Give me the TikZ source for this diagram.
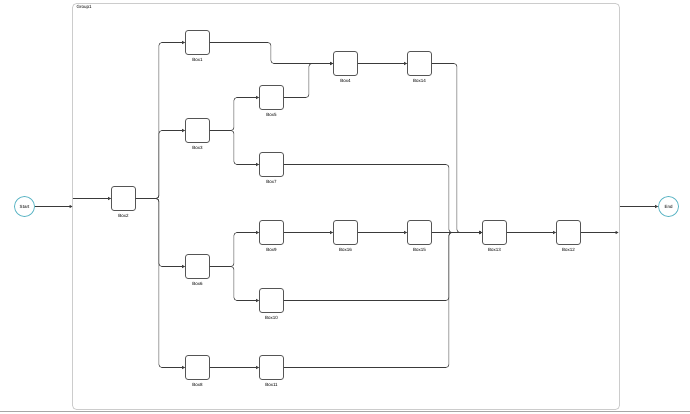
\documentclass[tikz,border=0pt]{standalone}
\usepackage{fontspec}
\setmainfont{Liberation Sans}
\usetikzlibrary{arrows.meta}
\definecolor{edgegray}{HTML}{3A3A3A}
\definecolor{boxgray}{HTML}{555555}
\definecolor{groupgray}{HTML}{CCCCCC}
\definecolor{teal}{HTML}{5AB4C4}
\begin{document}
\begin{tikzpicture}[x=1pt,y=-1pt,font=\fontsize{4.5}{5}\selectfont,
  box/.style={draw=boxgray,line width=0.8pt,rounded corners=2.5pt,minimum size=24pt,inner sep=0pt},
  lbl/.style={inner sep=0pt,label distance=3pt},
  term/.style={circle,draw=teal,line width=0.8pt,minimum size=20pt,inner sep=0pt},
  flow/.style={draw=edgegray,line width=0.6pt,rounded corners=3pt,-{Triangle[length=3pt,width=3pt]}}]
  \useasboundingbox (0,0) rectangle (690,414);
  \begin{scope}[shift={(0.5,0.5)}]

  % Grupo
  \draw[groupgray,line width=0.8pt,rounded corners=4pt] (72,3) rectangle (619,409);
  \node[anchor=north west,inner sep=0pt] (g1) at (76,5) {Group1};
  \draw[gray!70,line width=1.2pt] (-1,411) -- (691,411);

  % Inicio y fin
  \node[term] (start) at (24,206) {Start};
  \node[term] (end) at (668,206) {End};
  \coordinate (gin) at (72,206);
  \coordinate (gin2) at (72,198);
  \coordinate (gout) at (618,232);
  \coordinate (gout2) at (619,206);

  % Cajas
  \foreach \n/\x/\y in {1/197/42, 2/123/198, 3/197/130, 4/345/63, 5/271/97, 6/197/266,
                        7/271/164, 8/197/367, 9/271/232, 10/271/300, 11/271/367,
                        12/568/232, 13/494/232, 14/419/63, 15/419/232, 16/345/232}
    \node[box,label={[lbl]below:Box\n}] (b\n) at (\x,\y) {};

  % Aristas rectas
  \draw[flow] (start) -- (gin);
  \draw[flow] (gin2) -- (b2);
  \foreach \from/\to in {b4/b14, b9/b16, b16/b15, b15/b13, b8/b11, b13/b12}
    \draw[flow] (\from) -- (\to);
  \draw[flow] (b12) -- (gout);
  \draw[flow] (gout2) -- (end);

  % Aristas con codo
  \foreach \from/\to/\d in {b2/b1/23, b2/b3/23, b2/b6/23, b2/b8/23, b3/b5/24, b3/b7/24,
                            b6/b9/24, b6/b10/24, b1/b4/61, b5/b4/25, b14/b13/25,
                            b7/b13/165, b10/b13/165, b11/b13/165}
    \draw[flow] (\from.east) -- ++(\d,0) |- (\to.west);
  \end{scope}
\end{tikzpicture}
\end{document}
